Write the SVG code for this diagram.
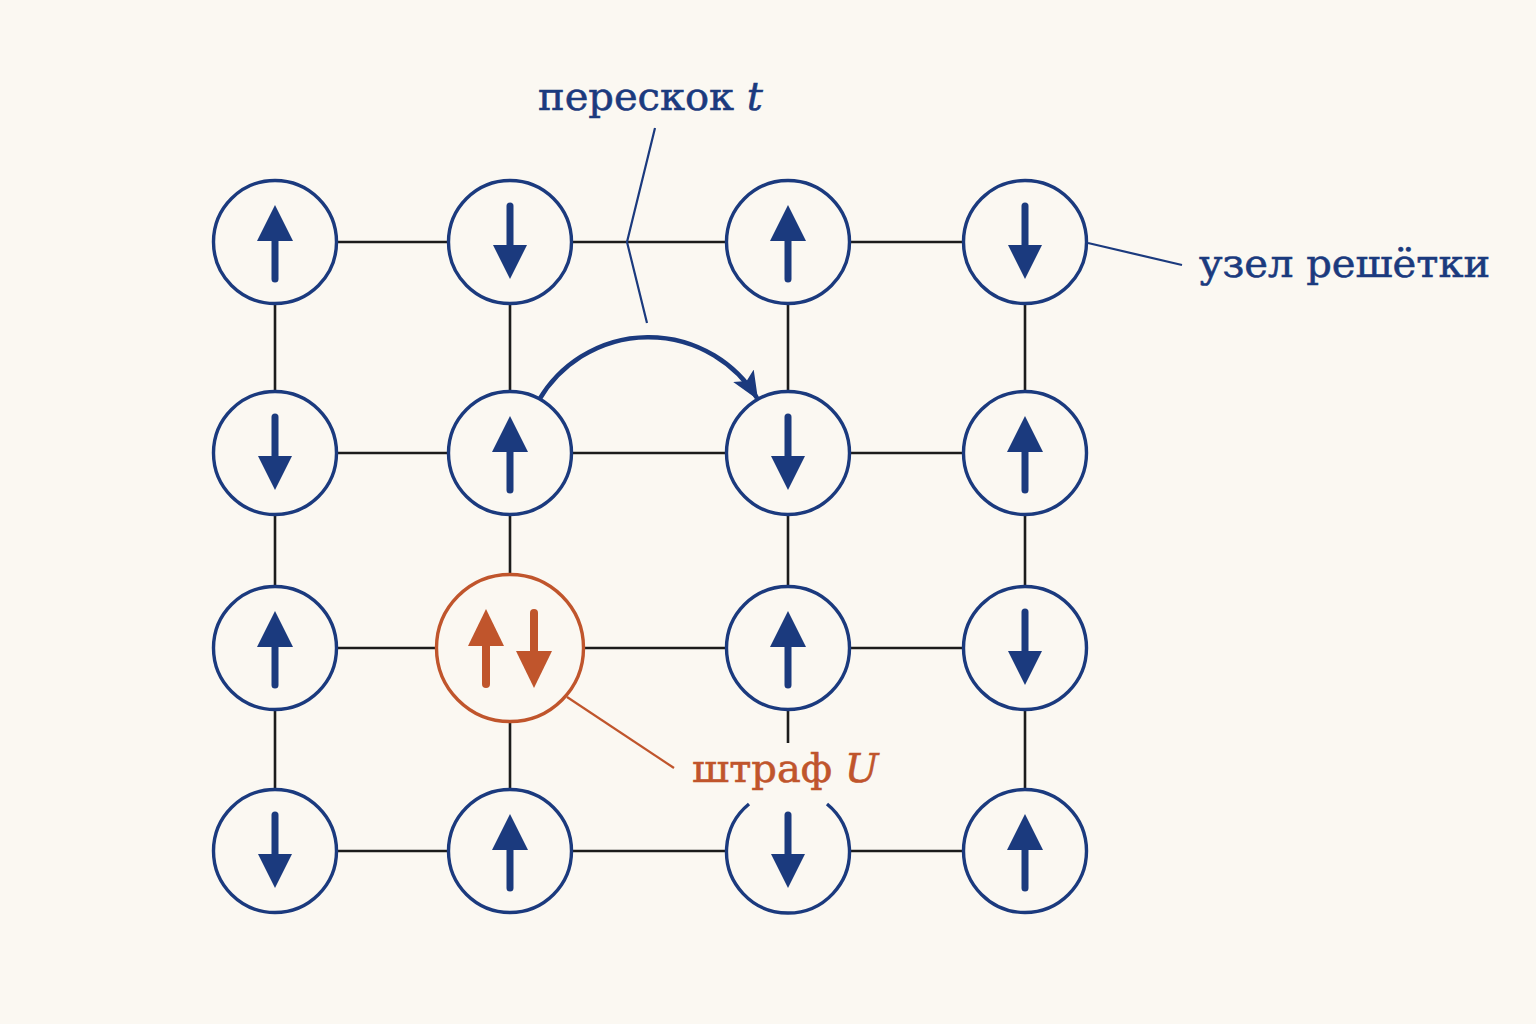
<svg xmlns="http://www.w3.org/2000/svg" width="1536" height="1024" viewBox="0 0 1536 1024">
<defs>
<style>
.bg{fill:#fbf8f2}
.edge{stroke:#1c1c1c;stroke-width:2.6;fill:none}
.node{fill:#fbf8f2;stroke:#1b3a7e;stroke-width:3.4}
.spin{fill:#1b3a7e}
.shaft{stroke:#1b3a7e;stroke-width:7;stroke-linecap:round}
.rnode{fill:#fbf8f2;stroke:#c0552c;stroke-width:3.4}
.rspin{fill:#c0552c}
.rshaft{stroke:#c0552c;stroke-width:8;stroke-linecap:round}
.lbl{font-family:"DejaVu Serif","Liberation Serif",serif;font-size:40px;fill:#1b3a7e;stroke:#1b3a7e;stroke-width:0.6}
.rlbl{font-family:"DejaVu Serif","Liberation Serif",serif;font-size:40px;fill:#c0552c;stroke:#c0552c;stroke-width:0.6}
.lead{stroke:#1b3a7e;stroke-width:2.2;fill:none}
.rlead{stroke:#c0552c;stroke-width:2.2;fill:none}
</style>
<g id="up"><line class="shaft" x1="0" y1="-6" x2="0" y2="37"/><polygon class="spin" points="0,-37 18,-1 -18,-1"/></g>
<g id="down"><line class="shaft" x1="0" y1="-36" x2="0" y2="6"/><polygon class="spin" points="0,37 17,3 -17,3"/></g>
<marker id="hop" viewBox="0 0 28 24" refX="26" refY="12" markerWidth="28" markerHeight="24" markerUnits="userSpaceOnUse" orient="auto">
<path d="M0,0 L28,12 L0,24 L6,12 Z" fill="#1b3a7e"/>
</marker>
</defs>
<rect class="bg" x="0" y="0" width="1536" height="1024"/>
<g id="connectors">
<line class="edge" x1="337" y1="242" x2="448" y2="242"/>
<line class="edge" x1="572" y1="242" x2="726" y2="242"/>
<line class="edge" x1="850" y1="242" x2="963" y2="242"/>
<line class="edge" x1="337" y1="453" x2="448" y2="453"/>
<line class="edge" x1="572" y1="453" x2="726" y2="453"/>
<line class="edge" x1="850" y1="453" x2="963" y2="453"/>
<line class="edge" x1="337" y1="648" x2="436" y2="648"/>
<line class="edge" x1="584" y1="648" x2="726" y2="648"/>
<line class="edge" x1="850" y1="648" x2="963" y2="648"/>
<line class="edge" x1="337" y1="851" x2="448" y2="851"/>
<line class="edge" x1="572" y1="851" x2="726" y2="851"/>
<line class="edge" x1="850" y1="851" x2="963" y2="851"/>
<line class="edge" x1="275" y1="304" x2="275" y2="391"/>
<line class="edge" x1="275" y1="515" x2="275" y2="586"/>
<line class="edge" x1="275" y1="710" x2="275" y2="789"/>
<line class="edge" x1="510" y1="304" x2="510" y2="391"/>
<line class="edge" x1="510" y1="515" x2="510" y2="574"/>
<line class="edge" x1="510" y1="722" x2="510" y2="789"/>
<line class="edge" x1="788" y1="304" x2="788" y2="391"/>
<line class="edge" x1="788" y1="515" x2="788" y2="586"/>
<line class="edge" x1="788" y1="710" x2="788" y2="743"/>
<line class="edge" x1="1025" y1="304" x2="1025" y2="391"/>
<line class="edge" x1="1025" y1="515" x2="1025" y2="586"/>
<line class="edge" x1="1025" y1="710" x2="1025" y2="789"/>
<path id="hop-arc" d="M539,400 A127,127 0 0 1 757,398" stroke="#1b3a7e" stroke-width="4.5" fill="none" marker-end="url(#hop)"/>
</g>
<g id="n00"><circle class="node" cx="275" cy="242" r="61.5"/><use href="#up" x="275" y="242"/></g>
<g id="n01"><circle class="node" cx="510" cy="242" r="61.5"/><use href="#down" x="510" y="242"/></g>
<g id="n02"><circle class="node" cx="788" cy="242" r="61.5"/><use href="#up" x="788" y="242"/></g>
<g id="n03"><circle class="node" cx="1025" cy="242" r="61.5"/><use href="#down" x="1025" y="242"/></g>
<g id="n10"><circle class="node" cx="275" cy="453" r="61.5"/><use href="#down" x="275" y="453"/></g>
<g id="n11"><circle class="node" cx="510" cy="453" r="61.5"/><use href="#up" x="510" y="453"/></g>
<g id="n12"><circle class="node" cx="788" cy="453" r="61.5"/><use href="#down" x="788" y="453"/></g>
<g id="n13"><circle class="node" cx="1025" cy="453" r="61.5"/><use href="#up" x="1025" y="453"/></g>
<g id="n20"><circle class="node" cx="275" cy="648" r="61.5"/><use href="#up" x="275" y="648"/></g>
<g id="n21"><circle class="rnode" cx="510" cy="648" r="73.5"/>
<line class="rshaft" x1="486" y1="640" x2="486" y2="684"/><polygon class="rspin" points="486,609 504,646 468,646"/>
<line class="rshaft" x1="534" y1="613" x2="534" y2="656"/><polygon class="rspin" points="534,688 552,651 516,651"/></g>
<g id="n22"><circle class="node" cx="788" cy="648" r="61.5"/><use href="#up" x="788" y="648"/></g>
<g id="n23"><circle class="node" cx="1025" cy="648" r="61.5"/><use href="#down" x="1025" y="648"/></g>
<g id="n30"><circle class="node" cx="275" cy="851" r="61.5"/><use href="#down" x="275" y="851"/></g>
<g id="n31"><circle class="node" cx="510" cy="851" r="61.5"/><use href="#up" x="510" y="851"/></g>
<g id="n32"><path class="node" d="M827,804 A61.5,61.5 0 1 1 749,804"/><use href="#down" x="788" y="851"/></g>
<g id="n33"><circle class="node" cx="1025" cy="851" r="61.5"/><use href="#up" x="1025" y="851"/></g>
<g id="label-hop">
<polyline class="lead" points="655,128 627,242 647,323"/>
<text class="lbl" x="538" y="110">перескок <tspan font-style="italic">t</tspan></text>
</g>
<g id="label-site">
<line class="lead" x1="1088" y1="243" x2="1182" y2="265"/>
<text class="lbl" x="1199" y="277">узел решётки</text>
</g>
<g id="label-U">
<line class="rlead" x1="567" y1="697" x2="674" y2="768"/>
<text class="rlbl" x="692" y="782">штраф <tspan font-style="italic">U</tspan></text>
</g>
</svg>
